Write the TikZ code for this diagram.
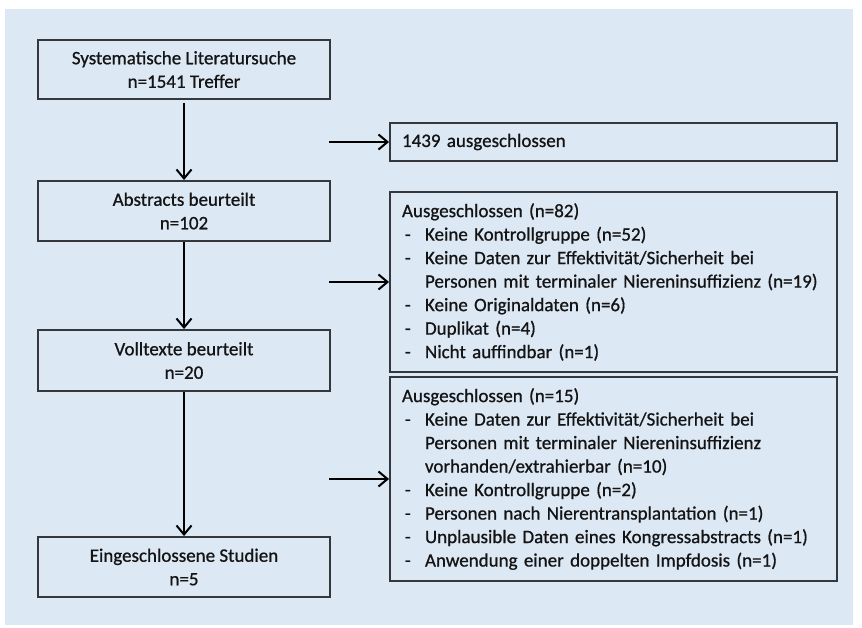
\documentclass[tikz,border=0pt]{standalone}
\usepackage{fontspec}
\setmainfont[FakeBold=0.8]{Carlito}
\usetikzlibrary{arrows.meta}
\definecolor{bgblue}{HTML}{DDE8F5}
\definecolor{frame}{HTML}{34383D}
\definecolor{ink}{HTML}{141414}
\newcommand{\itm}{\makebox[23pt][l]{\hspace{3pt}-}}
\newcommand{\cnt}{\hspace*{23pt}}
\begin{document}
\begin{tikzpicture}[x=1pt,y=-1pt,
  every node/.style={font=\fontsize{19}{23.5}\selectfont, text=ink},
  leftbox/.style={draw=frame, line width=1.9pt, minimum width=292pt, inner sep=0pt, align=center},
  rightbox/.style={draw=frame, line width=1.9pt, minimum width=447pt, text width=423pt, inner xsep=12pt, inner ysep=0pt, align=left},
  arr/.style={draw=black, line width=2pt, -{Straight Barb[length=9pt,width=15pt,line width=2pt]}}
]
\useasboundingbox (0,0) rectangle (862,628);
\fill[bgblue] (5,9) rectangle (853,625);

\node[leftbox, minimum height=59pt] (s1) at (184,69.5) {Systematische Literatursuche\\n=1541 Treffer};
\node[leftbox, minimum height=60pt] (s2) at (184,211) {Abstracts beurteilt\\n=102};
\node[leftbox, minimum height=61pt] (s3) at (184,360.5) {Volltexte beurteilt\\n=20};
\node[leftbox, minimum height=60pt] (s4) at (184,567) {Eingeschlossene Studien\\n=5};

\node[rightbox, minimum height=38pt] (e1) at (613.5,142) {1439 ausgeschlossen};
\node[rightbox, minimum height=180pt] (e2) at (613.5,282) {Ausgeschlossen (n=82)\\
\itm Keine Kontrollgruppe (n=52)\\
\itm Keine Daten zur Effektivität/Sicherheit bei\\
\cnt Personen mit terminaler Niereninsuffizienz (n=19)\\
\itm Keine Originaldaten (n=6)\\
\itm Duplikat (n=4)\\
\itm Nicht auffindbar (n=1)};
\node[rightbox, minimum height=204pt] (e3) at (613.5,479) {Ausgeschlossen (n=15)\\
\itm Keine Daten zur Effektivität/Sicherheit bei\\
\cnt Personen mit terminaler Niereninsuffizienz\\
\cnt vorhanden/extrahierbar (n=10)\\
\itm Keine Kontrollgruppe (n=2)\\
\itm Personen nach Nierentransplantation (n=1)\\
\itm Unplausible Daten eines Kongressabstracts (n=1)\\
\itm Anwendung einer doppelten Impfdosis (n=1)};

\coordinate (c1) at (329,142);
\coordinate (c2) at (329,282);
\coordinate (c3) at (329,479);

\draw[arr] ([yshift=-3pt]s1.south) -- (s2.north);
\draw[arr] (s2.south) -- (s3.north);
\draw[arr] (s3.south) -- (s4.north);
\draw[arr] (c1) -- (e1.west);
\draw[arr] (c2) -- (e2.west);
\draw[arr] (c3) -- (e3.west);
\end{tikzpicture}
\end{document}
